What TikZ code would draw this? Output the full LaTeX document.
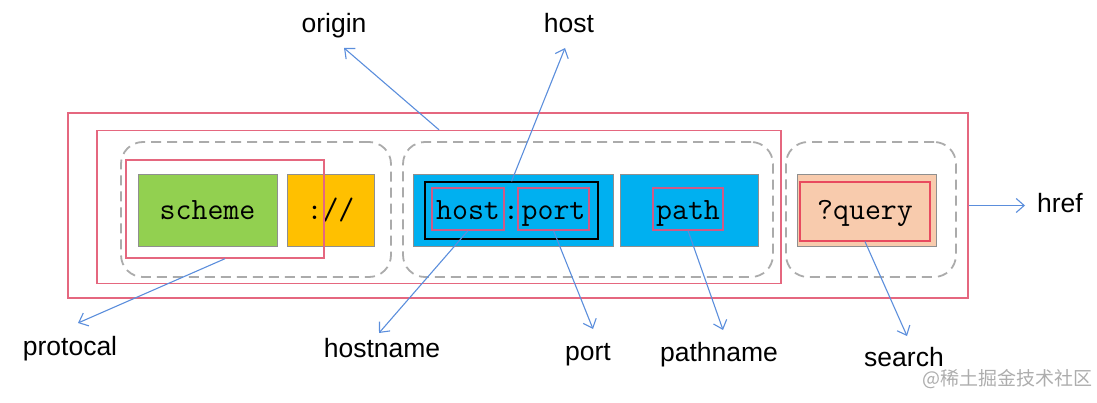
\documentclass[tikz,border=0pt]{standalone}
\usepackage{fontspec}
\setmainfont{Liberation Sans}
\newfontfamily\cjkfont{Noto Sans CJK SC}
\usetikzlibrary{arrows.meta}
\definecolor{pinkline}{HTML}{E5677F}
\definecolor{innerpink}{HTML}{D05A86}
\definecolor{qred}{HTML}{E84A5F}
\definecolor{dashgray}{HTML}{ABABAB}
\definecolor{boxgray}{HTML}{8F8F8F}
\definecolor{cgreen}{HTML}{92D050}
\definecolor{corange}{HTML}{FFC000}
\definecolor{cblue}{HTML}{00B0F0}
\definecolor{cpeach}{HTML}{F8CBAD}
\definecolor{arrowblue}{HTML}{5B8EDC}
\tikzset{
  pinkrect/.style={draw=pinkline, line width=1.4pt, inner sep=0pt},
  dashbox/.style={draw=dashgray, line width=1.8pt, dash pattern=on 10pt off 6pt, rounded corners=22pt, inner sep=0pt},
  colorbox/.style={draw=boxgray, line width=1pt, inner sep=0pt, minimum height=72pt, font=\ttfamily\fontsize{31}{31}\selectfont, text height=20pt, text depth=2pt},
  partbox/.style={draw=innerpink, line width=1.3pt, inner sep=0pt, minimum height=42pt, font=\ttfamily\fontsize{31}{31}\selectfont, text height=22pt, text depth=0pt},
  lbl/.style={anchor=base, font=\fontsize{26.5}{26.5}\selectfont, inner sep=0pt},
  conn/.style={draw=arrowblue, line width=1.1pt, -{Straight Barb[length=8pt, width=14pt, line width=1.1pt]}},
}
\begin{document}
\begin{tikzpicture}[x=1pt, y=-1pt]
\useasboundingbox (0,0) rectangle (1097,403);
% outer rectangles
\node[pinkrect, minimum width=900pt, minimum height=185pt] (href) at (518,205.5) {};
\node[pinkrect, minimum width=684pt, minimum height=153pt] (origin) at (439,207) {};
% dashed groups
\node[dashbox, minimum width=270pt, minimum height=135pt] (g1) at (256,209.5) {};
\node[dashbox, minimum width=370pt, minimum height=135pt] (g2) at (588,209.5) {};
\node[dashbox, minimum width=170pt, minimum height=135pt] (g3) at (871,209.5) {};
% coloured boxes
\node[colorbox, fill=cgreen, minimum width=139pt] (scheme) at (207.5,211) {scheme};
\node[colorbox, fill=corange, minimum width=87pt] (sep) at (330.5,211) {://};
\node[colorbox, fill=cblue, minimum width=200pt] (hostport) at (513,211) {};
\node[colorbox, fill=cblue, minimum width=138pt] (pathbox) at (689,211) {};
\node[colorbox, fill=cpeach, minimum width=139pt] (querybox) at (866.5,211) {};
% protocol rectangle
\node[pinkrect, minimum width=198pt, minimum height=98pt] (protocol) at (225,209) {};
% host:port parts
\node[draw=black, line width=1.2pt, inner sep=0pt, minimum width=173pt, minimum height=57pt] (hostblock) at (511.5,210.5) {};
\node[partbox, minimum width=72pt] (host) at (468,209) {host};
\node[partbox, minimum width=71pt] (port) at (553.5,209) {port};
\node[anchor=base, inner sep=0pt, font=\ttfamily\fontsize{31}{31}\selectfont] (colon) at (511,220) {:};
\node[partbox, minimum width=70pt] (path) at (688,209) {path};
\node[draw=qred, line width=1.2pt, inner sep=0pt, minimum width=130pt, minimum height=59pt, font=\ttfamily\fontsize{31}{31}\selectfont, text height=19pt, text depth=2pt] (query) at (865,211.5) {?query};
% labels
\node[lbl] (lorigin) at (334,33) {origin};
\node[lbl] (lhost) at (569,33) {host};
\node[lbl] (lhref) at (1060,213) {href};
\node[lbl] (lprotocal) at (70,355) {protocal};
\node[lbl] (lhostname) at (382,357) {hostname};
\node[lbl] (lport) at (588,360) {port};
\node[lbl] (lpathname) at (719,361) {pathname};
\node[lbl] (lsearch) at (904,366) {search};
% arrow tips
\coordinate (torigin) at (344,48);
\coordinate (thost) at (565,48);
\coordinate (thref) at (1025,205.5);
\coordinate (tprotocal) at (78,323);
\coordinate (thostname) at (379,333);
\coordinate (tport) at (593,329);
\coordinate (tpathname) at (723,330);
\coordinate (tsearch) at (907,336);
% connectors
\draw[conn] (origin.north) -- (torigin);
\draw[conn] (hostblock.north) -- (thost);
\draw[conn] (href.east) -- (thref);
\draw[conn] (protocol.south) -- (tprotocal);
\draw[conn] (host.south) -- (thostname);
\draw[conn] (port.south) -- (tport);
\draw[conn] (path.south) -- (tpathname);
\draw[conn] (query.south) -- (tsearch);
% watermark
\node[anchor=base west, inner sep=0pt, text=black!32, font=\cjkfont\fontsize{19}{19}\selectfont] (wm) at (922,385) {@稀土掘金技术社区};
\end{tikzpicture}
\end{document}
